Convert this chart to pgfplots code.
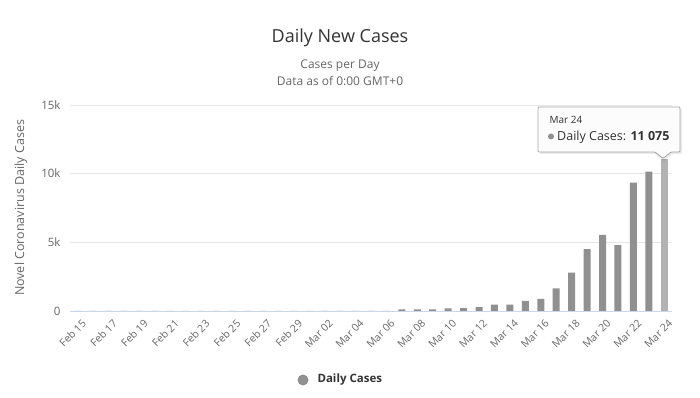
\documentclass[border=0pt]{standalone}
\usepackage{pgfplots}
\pgfplotsset{compat=1.18}
\usepackage{fontspec}
\setmainfont{Open Sans}
\definecolor{bargray}{RGB}{144,144,144}
\definecolor{hovergray}{RGB}{178,178,178}
\definecolor{txtdark}{RGB}{51,51,51}
\definecolor{txtgray}{RGB}{102,102,102}
\definecolor{gridc}{RGB}{230,230,230}
\definecolor{axisc}{RGB}{204,214,235}
\begin{document}
\begin{tikzpicture}[x=1pt,y=1pt]
\begin{axis}[
  at={(0,0)}, anchor=south west,
  scale only axis, width=602pt, height=206pt,
  xmin=-0.5, xmax=38.5, ymin=0, ymax=15000,
  ybar, bar width=7pt, bar shift=0pt,
  axis x line*=bottom, axis y line*=left,
  x axis line style={draw=axisc, line width=0.8pt, -},
  y axis line style={draw=none},
  xtick style={draw=none}, ytick style={draw=none},
  ymajorgrids, grid style={draw=gridc, line width=0.8pt},
  ytick={0,5000,10000,15000},
  yticklabels={0,5k,10k,15k},
  scaled y ticks=false,
  xtick={0,2,...,38},
  xticklabels={Feb 15,Feb 17,Feb 19,Feb 21,Feb 23,Feb 25,Feb 27,Feb 29,Mar 02,Mar 04,Mar 06,Mar 08,Mar 10,Mar 12,Mar 14,Mar 16,Mar 18,Mar 20,Mar 22,Mar 24},
  /pgf/number format/assume math mode=true,
  xticklabel style={font=\fontsize{10.5}{12}\selectfont, text=txtgray, rotate=45, anchor=north east, inner sep=1pt, yshift=-4pt, xshift=1pt},
  yticklabel style={font=\fontsize{11.5}{13}\selectfont, text=txtgray, xshift=-6pt},
  ylabel={Novel Coronavirus Daily Cases},
  every axis y label/.style={at={(rel axis cs:0,0.5)}, rotate=90, anchor=center, yshift=49pt, font=\fontsize{12.5}{14}\selectfont, text=txtgray},
  clip=false,
]
\addplot[fill=bargray, draw=none] coordinates {
(0,0) (1,0) (2,0) (3,0) (4,0) (5,0) (6,0) (7,0) (8,0) (9,0)
(10,0) (11,0) (12,0) (13,0) (14,0) (15,0) (16,0) (17,0) (18,0) (19,0)
(20,0) (21,110) (22,110) (23,110) (24,200) (25,210) (26,290) (27,470) (28,470) (29,740)
(30,880) (31,1650) (32,2790) (33,4500) (34,5540) (35,4790) (36,9350) (37,10150)
};
\addplot[fill=hovergray, draw=none] coordinates {(38,11075)};
\end{axis}
% titles
\node[text=txtdark, font=\fontsize{18}{21}\selectfont] at (270,273) {Daily New Cases};
\node[text=txtgray, font=\fontsize{12}{14}\selectfont] at (270,245) {Cases per Day};
\node[text=txtgray, font=\fontsize{12}{14}\selectfont] at (270,230) {Data as of 0:00 GMT+0};
% legend
\fill[bargray] (233,-69) circle (5.5pt);
\node[anchor=west, text=txtdark, font=\fontsize{11.5}{13}\bfseries] at (244,-69) {Daily Cases};
% tooltip
\fill[black, opacity=0.08] (470,157) -- (585,157) -- (594,150) -- (603,157) -- (612,157) -- (612,202) -- (470,202) -- cycle;
\filldraw[fill=white, fill opacity=0.92, draw=bargray!80, line width=0.8pt, rounded corners=1pt]
  (468,159) -- (585,159) -- (593,152.5) -- (601,159) -- (610,159) -- (610,204) -- (468,204) -- cycle;
\node[anchor=base west, text=txtdark, font=\fontsize{10}{12}\selectfont] at (476,187) {Mar 24};
\fill[bargray] (481,174.5) circle (3pt);
\node[anchor=base west, text=txtdark, font=\fontsize{12.5}{14}\selectfont, inner sep=0pt] at (487,170) {Daily Cases: \textbf{11 075}};
\path[use as bounding box] (-70,-87) rectangle (630,311);
\end{tikzpicture}
\end{document}
